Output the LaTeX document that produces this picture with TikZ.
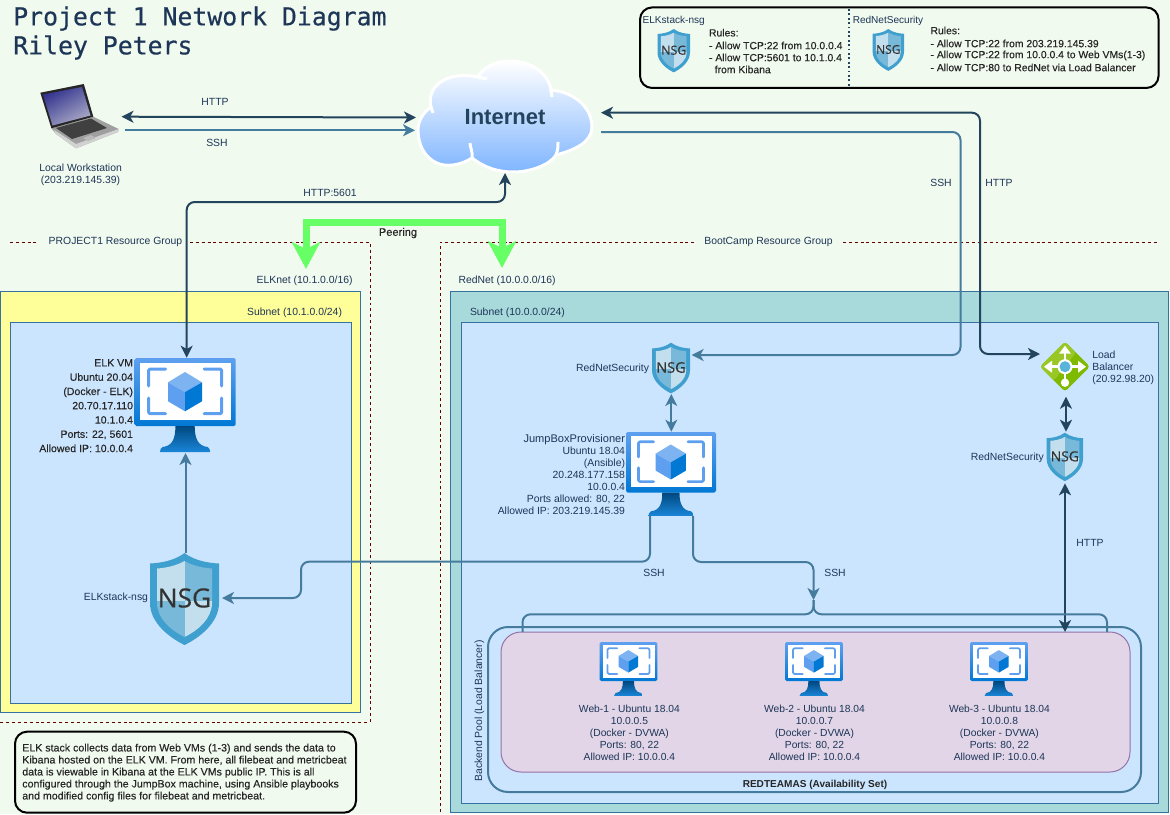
\documentclass[tikz,border=0pt]{standalone}
\usepackage{fontspec}
\setmainfont{Liberation Sans}
\newfontfamily\titlefont[FakeBold=0.45]{DejaVu Sans Mono}
\newfontfamily\nsgfont[FakeBold=0.3]{Open Sans}
\newfontfamily\heavyfont[FakeBold=0.25]{Liberation Sans}
\usetikzlibrary{arrows.meta,calc}
\definecolor{bgc}{HTML}{F1FAEE}
\definecolor{ink}{HTML}{1D3557}
\definecolor{darkl}{HTML}{23445D}
\definecolor{bluel}{HTML}{457B9D}
\definecolor{edgec}{HTML}{36719F}
\definecolor{tealf}{HTML}{A8DADC}
\definecolor{paleb}{HTML}{CCE5FF}
\definecolor{yellowf}{HTML}{FFFF99}
\definecolor{purpf}{HTML}{E1D5E7}
\definecolor{purpe}{HTML}{9673A6}
\definecolor{groupc}{HTML}{660000}
\definecolor{peerc}{HTML}{66FF66}
\definecolor{vmtop}{HTML}{5EA0EF}
\definecolor{vmbot}{HTML}{0078D4}
\definecolor{nsgo}{HTML}{3F9FCF}
\definecolor{nsgl}{HTML}{C3DFEE}
\definecolor{nsgm}{HTML}{78B8D8}
\definecolor{cloudb}{HTML}{7FB5FF}
\definecolor{lbdark}{HTML}{7FBA00}
\definecolor{lblight}{HTML}{98C726}
\definecolor{lbdot}{HTML}{59B4D9}
\tikzset{
  hit/.style 2 args={minimum width=#1*0.75pt,minimum height=#2*0.75pt,inner sep=0pt,outer sep=0pt},
  lbl/.style={font=\fontsize{7.8}{9}\selectfont,text=ink,inner sep=0pt,outer sep=0pt},
  blk/.style={font=\heavyfont\fontsize{7.8}{9}\selectfont,text=black!85,inner sep=0pt,outer sep=0pt},
  boxn/.style={draw=edgec,line width=0.75pt,inner sep=0pt,outer sep=0pt},
  grp/.style={draw=groupc,line width=0.75pt,dash pattern=on 2.2pt off 2.2pt},
  dk/.style={draw=darkl,line width=1.5pt,rounded corners=6pt,>={Stealth[length=9pt,width=9pt,inset=2.5pt]}},
  bl/.style={draw=bluel,line width=1.5pt,rounded corners=6pt,>={Stealth[length=9pt,width=9pt,inset=2.5pt]}},
  peer/.style={draw=peerc,line width=5.25pt,>={Stealth[length=20pt,width=21pt,inset=5pt]}},
}
\newcommand{\vmicon}[4]{%
\begin{scope}[shift={(#2,#3)},scale=#4]
\pgfmathsetmacro\bw{2.25*#4}
\shade[top color=vmtop,bottom color=vmbot,rounded corners=1.2pt] (0,0) rectangle (101,68);
\fill[white] (5.3,5) rectangle (96,62);
\draw[vmtop,line width=\bw pt,line cap=round,line join=round,rounded corners=1pt]
  (31,11)--(14,11)--(14,28) (69.5,11)--(87,11)--(87,28)
  (14,40)--(14,55.7)--(31,55.7) (87,40)--(87,55.7)--(69.5,55.7);
\fill[vmtop!80!white] (50.3,14)--(67.3,24.3)--(50.3,34)--(33.3,24.3)--cycle;
\fill[vmtop] (33.3,24.3)--(50.3,34)--(50.3,53.3)--(33.3,43.3)--cycle;
\fill[vmbot] (67.3,24.3)--(50.3,34)--(50.3,53.3)--(67.3,43.3)--cycle;
\shade[top color=vmbot!60!black,bottom color=vmbot!90!white]
  (40.7,68)--(60,68) .. controls (60,80) and (63,88) .. (73,89) .. controls (75,90) and (75.3,92) .. (75.3,94)
  --(25.3,94) .. controls (25.3,92) and (26,90) .. (28,89) .. controls (38,88) and (40.7,80) .. (40.7,68)--cycle;
\node[hit={101*#4}{94*#4}] (#1) at (50.5,47) {};
\end{scope}}
\newcommand{\nsgicon}[4]{%
\pgfmathsetmacro\sc{#4/69}
\pgfmathsetmacro\fs{19.8*\sc}
\begin{scope}[shift={(#2,#3)},scale=\sc]
\fill[nsgo] (34.5,0) .. controls (24,8) and (10,10) .. (0,10.5) -- (0,50)
  .. controls (0,70) and (20,85) .. (34.5,92) .. controls (49,85) and (69,70) .. (69,50)
  -- (69,10.5) .. controls (59,10) and (45,8) .. (34.5,0) -- cycle;
\begin{scope}
\clip (34.5,8) .. controls (26,13) and (15,15) .. (7,15.5) -- (7,50)
  .. controls (7,66) and (22,78) .. (34.5,84) .. controls (47,78) and (62,66) .. (62,50)
  -- (62,15.5) .. controls (54,15) and (43,13) .. (34.5,8) -- cycle;
\fill[nsgl] (0,0) rectangle (34.5,48);
\fill[nsgm] (34.5,0) rectangle (69,48);
\fill[nsgm] (0,48) rectangle (34.5,92);
\fill[nsgl] (34.5,48) rectangle (69,92);
\end{scope}
\node[hit={#4}{92*\sc},font=\nsgfont\fontsize{\fs}{\fs}\selectfont,text=black!80] (#1) at (34.5,45) {NSG};
\end{scope}}
\begin{document}
\begin{tikzpicture}[x=0.75pt,y=-0.75pt]
\useasboundingbox (0,0) rectangle (1170,814);
\fill[bgc] (0,0) rectangle (1170,814);

% title
\node[font=\titlefont\fontsize{18.6}{21.75}\selectfont,text=ink,align=left,anchor=west,inner sep=0pt] (title) at (13,33) {Project 1 Network Diagram\\Riley Peters};

% resource groups
\draw[grp] (10,242)--(39,242) (190,242)--(370,242)--(370,722)--(0,722);
\draw[grp] (440,812)--(440,242)--(694,242) (843,242)--(1159,242);
\node[lbl] (grpa) at (115.5,242) {PROJECT1 Resource Group};
\node[lbl] (grpb) at (768.5,242) {BootCamp Resource Group};

% containers
\node[boxn,fill=yellowf,hit={360}{421}] (elknet) at (180,501.5) {};
\node[boxn,fill=paleb,hit={341}{381}] (elksub) at (180.5,512.5) {};
\node[boxn,fill=tealf,hit={718}{521}] (rednet) at (809,551.5) {};
\node[boxn,fill=paleb,hit={697}{481}] (redsub) at (809.5,562.5) {};
\node[draw=bluel,line width=1.5pt,rounded corners=15pt,hit={653}{165}] (avail) at (814.5,709.5) {};
\node[draw=purpe,line width=0.75pt,fill=purpf,rounded corners=15pt,hit={629}{140}] (pool) at (815.5,702) {};

\node[lbl,anchor=east] (elknett) at (352.6,280.7) {ELKnet (10.1.0.0/16)};
\node[lbl,anchor=west] (rednett) at (458.5,280.7) {RedNet (10.0.0.0/16)};
\node[lbl,anchor=east] (elksubt) at (342,312.7) {Subnet (10.1.0.0/24)};
\node[lbl,anchor=west] (redsubt) at (470,312.7) {Subnet (10.0.0.0/24)};

% legend
\node[draw=black,line width=1.5pt,rounded corners=9pt,hit={518.5}{80.5}] (legend) at (899.3,47.7) {};
\draw[darkl,line width=1.3pt,dotted] (849,9)--(849,87);
\node[lbl,font=\fontsize{7.55}{9}\selectfont] (lega) at (673.7,20.7) {ELKstack-nsg};
\node[lbl,font=\fontsize{7.55}{9}\selectfont] (legb) at (888,20.7) {RedNetSecurity};
\nsgicon{nsgla}{657.5}{29}{32.5}
\nsgicon{nsglb}{872.6}{29}{31.4}
\node[blk,anchor=west] (ra0) at (709,32.7) {Rules:};
\node[blk,anchor=west] (ra1) at (709,45.5) {- Allow TCP:22 from 10.0.0.4};
\node[blk,anchor=west] (ra2) at (709,57.5) {- Allow TCP:5601 to 10.1.0.4};
\node[blk,anchor=west] (ra3) at (714.7,69.5) {from Kibana};
\node[blk,anchor=west] (rb0) at (930.5,30.5) {Rules:};
\node[blk,anchor=west] (rb1) at (930.5,43.5) {- Allow TCP:22 from 203.219.145.39};
\node[blk,anchor=west] (rb2) at (930.5,55.5) {- Allow TCP:22 from 10.0.0.4 to Web VMs(1-3)};
\node[blk,anchor=west] (rb3) at (930.5,67.5) {- Allow TCP:80 to RedNet via Load Balancer};

% laptop
\fill[gray!75] (51.4,128.3)--(93.3,116.7)--(118.6,129)--(118,132)--(76,148.3)--(56,134)--cycle;
\fill[gray!35] (76,144)--(118.6,129)--(118,132)--(76,148.3)--(56,134)--(54,130)--cycle;
\fill[black!75] (56,128)--(91,118.5)--(107,128)--(72,139)--cycle;
\fill[gray!55] (83,138)--(91,135)--(96,138)--(88,141)--cycle;
\fill[black!85] (40.3,92.7)--(83.8,84)--(93.3,116.7)--(51.4,128.3)--cycle;
\shade[left color=blue!45!black!80!white,right color=blue!20!gray!55!white,shading angle=30] (43,94.5)--(82,87)--(90.5,115.5)--(52.5,125.5)--cycle;
\node[hit={84}{65}] (laptop) at (79.5,116.7) {};
\node[lbl,align=center] (ltext) at (80.6,175) {Local Workstation\\(203.219.145.39)};

% cloud
\path[draw=white,line width=2.25pt,top color=white,bottom color=cloudb]
  (431,107) .. controls (426,88) and (445,70) .. (478,77)
  .. controls (484,66) and (497,61) .. (510,61)
  .. controls (530,61) and (548,72) .. (551,90)
  .. controls (575,92) and (592,108) .. (592,127)
  .. controls (592,142) and (575,150) .. (556,155)
  .. controls (550,165) and (530,172) .. (514,172)
  .. controls (498,172) and (485,168) .. (472,158)
  .. controls (460,166) and (445,167) .. (437,163)
  .. controls (425,158) and (418,145) .. (418,130)
  .. controls (418,120) and (424,112) .. (431,107) -- cycle;
\draw[white,line width=2.25pt] (472,158) .. controls (473,152) and (470,147) .. (470,143)
  (556,155) .. controls (558,150) and (558,146) .. (558,142)
  (431,107) -- (433,113) (478,77) -- (487,79) (551,90) -- (552,97);
\node[hit={178}{115},font=\bfseries\fontsize{16.5}{18}\selectfont,text=darkl] (cloud) at (505,117.5) {Internet};

% icons
\vmicon{elkvm}{134.7}{358}{1}
\vmicon{jump}{626}{432}{0.891}
\vmicon{weba}{599.5}{642}{0.574}
\vmicon{webb}{785}{642}{0.574}
\vmicon{webc}{970}{642}{0.574}
\nsgicon{nsgelk}{150}{553}{69}
\nsgicon{nsgr}{652}{342.7}{38}
\nsgicon{nsgb}{1046.7}{432.7}{36.3}

% load balancer
\begin{scope}[shift={(1040,341.7)}]
\fill[lbdark,rounded corners=2.5pt] (25,0)--(50,25)--(25,50)--(0,25)--cycle;
\fill[lblight,rounded corners=2pt] (25,0)--(36,11)--(14,39)--(0,25)--cycle;
\draw[white,line width=2.2pt] (25,8)--(25,40) (8,25)--(42,25);
\fill[white] (25,4)--(31,12)--(19,12)--cycle (4,25)--(12,19)--(12,31)--cycle (46,25)--(38,19)--(38,31)--cycle;
\fill[white] (25,41) circle (4.2);
\fill[white] (25,25) circle (7.5);
\fill[lbdot] (25,25) circle (5.5);
\node[hit={50}{50}] (lb) at (25,25) {};
\end{scope}
\node[lbl,anchor=west,align=left] (lbt) at (1092.3,367.7) {Load\\Balancer\\(20.92.98.20)};

% VM and NSG text
\node[blk,anchor=east,align=right,font=\heavyfont\fontsize{7.9}{10.7}\selectfont] (elkt) at (133,405.7) {ELK VM\\Ubuntu 20.04\\(Docker - ELK)\\20.70.17.110\\10.1.0.4\\Ports: 22, 5601\\Allowed IP: 10.0.0.4};
\node[lbl,anchor=east,align=right] (jumpt) at (625,474.7) {{\fontsize{8.3}{9}\selectfont JumpBoxProvisioner}\\Ubuntu 18.04\\(Ansible)\\20.248.177.158\\10.0.0.4\\Ports allowed: 80, 22\\Allowed IP: 203.219.145.39};
\node[lbl,font=\fontsize{7.7}{9}\selectfont,align=center] (wta) at (629.4,732.7) {Web-1 - Ubuntu 18.04\\10.0.0.5\\(Docker - DVWA)\\Ports: 80, 22\\Allowed IP: 10.0.0.4};
\node[lbl,font=\fontsize{7.7}{9}\selectfont,align=center] (wtb) at (814.5,732.7) {Web-2 - Ubuntu 18.04\\10.0.0.7\\(Docker - DVWA)\\Ports: 80, 22\\Allowed IP: 10.0.0.4};
\node[lbl,font=\fontsize{7.7}{9}\selectfont,align=center] (wtc) at (999.4,732.7) {Web-3 - Ubuntu 18.04\\10.0.0.8\\(Docker - DVWA)\\Ports: 80, 22\\Allowed IP: 10.0.0.4};
\node[lbl,anchor=east] (nsgelkt) at (148,598) {ELKstack-nsg};
\node[lbl,anchor=east] (nsgrt) at (649,368.7) {RedNetSecurity};
\node[lbl,anchor=east] (nsgbt) at (1043.7,457.7) {RedNetSecurity};
\node[blk,font=\bfseries\fontsize{7.55}{9}\selectfont] (avt) at (815,785) {REDTEAMAS (Availability Set)};
\node[lbl,rotate=90] (bpt) at (479.5,711) {Backend Pool (Load Balancer)};

% anchors for connector ends
\coordinate (lapS) at (124.5,130.3);
\coordinate (cloudS) at (415,130.3);
\coordinate (cloudH) at (601,112.7);
\coordinate (cloudO) at (601,132);
\coordinate (railH) at (980,230);
\coordinate (railS) at (960.5,230);
\coordinate (lbIn) at (1040,354);
\coordinate (nsgrIn) at (691.6,355);
\coordinate (elkTop) at (186.7,357.7);
\coordinate (rail56) at (330,202);
\coordinate (cloudB) at (505,173);
\coordinate (peerL) at (306,269);
\coordinate (peerR) at (502,268);
\coordinate (peerM) at (398,222.7);
\coordinate (jumpL) at (650,516);
\coordinate (jumpR) at (693,516);
\coordinate (elkJog) at (301,561.7);
\coordinate (nsgIn) at (222,598);
\coordinate (webJog) at (813.5,562);
\coordinate (webIn) at (813.5,600);
\coordinate (braceJ) at (813.5,614.3);
\coordinate (braceL) at (522.5,632);
\coordinate (braceR) at (1107,632);
\coordinate (poolH) at (1065,632);
\coordinate (nsgTop) at (185.5,553);
\coordinate (elkB) at (185.5,453);
\coordinate (nsgrB) at (671.3,394);
\coordinate (jumpT) at (671.3,431.7);
\coordinate (lbB) at (1066,396.7);
\coordinate (nsgbT) at (1066,431.7);
\coordinate (nsgbB) at (1065,483.3);

% connectors
\draw[dk,<->] (laptop.east) -- (cloud.west);
\draw[bl,->] (lapS) -- (cloudS);
\draw[dk,<->] (cloudH) -| (railH) |- (lbIn);
\draw[bl,->] (cloudO) -| (railS) |- (nsgrIn);
\draw[dk,<->] (elkTop) |- (rail56) -| (cloudB);
\draw[peer,->] (peerM) -| (peerL);
\draw[peer,->] (peerM) -| (peerR);
\draw[bl,->] (nsgTop) -- (elkB);
\draw[bl,<->] (nsgrB) -- (jumpT);
\draw[dk,<->] (lbB) -- (nsgbT);
\draw[dk,<->] (nsgbB) -- (poolH);
\draw[bl,->] (jumpL) |- (elkJog) |- (nsgIn);
\draw[bl,->] (jumpR) |- (webJog) -- (webIn);
\draw[bl] (braceL) |- (braceJ) -- (webIn);
\draw[bl] (braceR) |- (braceJ) -- (webIn);

% connector labels
\node[lbl] (lh) at (215,102) {HTTP};
\node[lbl] (ls) at (217,143) {SSH};
\node[lbl] (l56) at (330,192.7) {HTTP:5601};
\node[blk,font=\heavyfont\fontsize{8.3}{9}\selectfont] (lp) at (398,233) {Peering};
\node[lbl] (lss) at (941,182.7) {SSH};
\node[lbl] (lhh) at (999,182.7) {HTTP};
\node[lbl] (ls1) at (654,572.7) {SSH};
\node[lbl] (ls2) at (835,572.7) {SSH};
\node[lbl] (lh2) at (1090,542.7) {HTTP};

% note
\node[draw=black,line width=1.5pt,rounded corners=9pt,hit={341}{81}] (note) at (185.5,772.2) {};
\node[blk,anchor=west,align=left,font=\heavyfont\fontsize{7.97}{9}\selectfont] (notet) at (22.3,772.7) {ELK stack collects data from Web VMs (1-3) and sends the data to\\Kibana hosted on the ELK VM. From here, all filebeat and metricbeat\\data is viewable in Kibana at the ELK VMs public IP. This is all\\configured through the JumpBox machine, using Ansible playbooks\\and modified config files for filebeat and metricbeat.};
\end{tikzpicture}
\end{document}
